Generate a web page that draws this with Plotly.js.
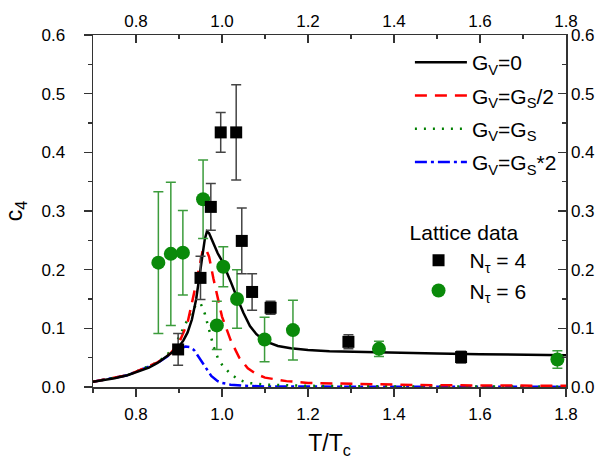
<!DOCTYPE html>
<html><head><meta charset="utf-8">
<script src="https://cdn.plot.ly/plotly-3.0.1.min.js"></script>
<style>html,body{margin:0;padding:0;background:#fff}#c{width:603px;height:464px}</style>
</head><body><div id="c"></div>
<script>
// Model curves
const gv0X = [0.70,0.75,0.78,0.80,0.83,0.85,0.87,0.89,0.90,0.91,0.92,0.93,0.94,0.95,0.955,0.96,0.965,0.97,0.98,0.99,1.00,1.01,1.02,1.035,1.05,1.065,1.08,1.10,1.13,1.16,1.20,1.25,1.30,1.40,1.50,1.60,1.70,1.80];
const gv0Y = [0.009,0.015,0.020,0.025,0.033,0.041,0.051,0.062,0.069,0.079,0.093,0.115,0.150,0.200,0.228,0.252,0.265,0.262,0.245,0.228,0.215,0.198,0.180,0.152,0.126,0.104,0.090,0.078,0.070,0.066,0.063,0.061,0.060,0.058,0.057,0.056,0.055,0.054];
const gvHalfX = [0.70,0.78,0.85,0.88,0.90,0.92,0.935,0.95,0.955,0.962,0.97,0.98,0.99,1.00,1.02,1.04,1.06,1.08,1.10,1.15,1.20,1.30,1.40,1.50,1.60,1.70,1.80];
const gvHalfY = [0.009,0.020,0.042,0.057,0.075,0.110,0.160,0.215,0.232,0.236,0.222,0.185,0.150,0.120,0.080,0.050,0.032,0.022,0.016,0.010,0.007,0.005,0.004,0.003,0.003,0.002,0.002];
const gvSX = [0.70,0.78,0.85,0.87,0.89,0.91,0.93,0.94,0.95,0.96,0.97,0.98,0.99,1.00,1.02,1.04,1.06,1.10,1.20,1.40,1.80];
const gvSY = [0.009,0.020,0.042,0.053,0.070,0.100,0.130,0.140,0.143,0.125,0.095,0.070,0.050,0.038,0.022,0.012,0.007,0.004,0.002,0.001,0.0005];
const gv2X = [0.70,0.78,0.85,0.88,0.90,0.915,0.925,0.935,0.945,0.955,0.965,0.975,0.99,1.00,1.02,1.05,1.10,1.20,1.40,1.80];
const gv2Y = [0.009,0.020,0.041,0.055,0.065,0.069,0.068,0.063,0.052,0.040,0.028,0.019,0.010,0.007,0.004,0.002,0.001,0.0005,0.0003,0.0002];

// Lattice data
const nt4X = [0.898,0.950,0.974,0.997,1.033,1.046,1.070,1.113,1.294,1.556];
const nt4Y = [0.064,0.186,0.307,0.434,0.434,0.249,0.162,0.135,0.077,0.051];
const nt4E = [0.027,0.037,0.040,0.034,0.081,0.056,0.031,0.011,0.012,0.010];
const nt6X = [0.852,0.881,0.909,0.956,0.988,1.003,1.035,1.099,1.165,1.365,1.780];
const nt6Y = [0.212,0.227,0.229,0.320,0.105,0.205,0.150,0.081,0.097,0.065,0.047];
const nt6E = [0.121,0.122,0.072,0.067,0.041,0.034,0.050,0.038,0.051,0.013,0.015];

const names = ['G<sub>V</sub>=0','G<sub>V</sub>=G<sub>S</sub>/2','G<sub>V</sub>=G<sub>S</sub>','G<sub>V</sub>=G<sub>S</sub>*2'];
const latNames = ['N<sub>τ</sub> = 4','N<sub>τ</sub> = 6'];

const traces = [
  {x:gv2X,y:gv2Y,mode:'lines',name:names[3],legend:'legend',legendgroup:'d',legendrank:4,line:{color:'#0000ff',width:2.5,dash:'12px,4px,3px,4px'}},
  {x:gvSX,y:gvSY,mode:'lines',name:names[2],legend:'legend',legendgroup:'c',legendrank:3,line:{color:'#008000',width:2.5,dash:'2px,7px'}},
  {x:gvHalfX,y:gvHalfY,mode:'lines',name:names[1],legend:'legend',legendgroup:'b',legendrank:2,line:{color:'#ff0000',width:2.5,dash:'12px,8px'}},
  {x:gv0X,y:gv0Y,mode:'lines',name:names[0],legend:'legend',legendgroup:'a',legendrank:1,line:{color:'#000000',width:2.5}},
  {x:nt6X,y:nt6Y,mode:'markers',name:latNames[1],legend:'legend2',legendrank:2,
   marker:{symbol:'circle',size:14,color:'#0a8a0a'},
   error_y:{type:'data',array:nt6E,visible:true,color:'#3c9c3c',thickness:1.5,width:5}},
  {x:nt4X,y:nt4Y,mode:'markers',name:latNames[0],legend:'legend2',legendrank:1,
   marker:{symbol:'square',size:12,color:'#000000'},
   error_y:{type:'data',array:nt4E,visible:true,color:'#444444',thickness:1.5,width:5}},
  {x:[0.7],y:[0],xaxis:'x2',yaxis:'y2',mode:'markers',marker:{opacity:0},showlegend:false,hoverinfo:'skip'}
];

const font = {family:'Liberation Sans, Arial, sans-serif',color:'#000'};
const axCommon = {showgrid:false,zeroline:false,showline:true,linecolor:'#333',linewidth:1.5,tickcolor:'#333',tickwidth:1.5,
  tickfont:{family:font.family,size:17,color:'#000'}};

const layout = {
  width:603,height:464,
  margin:{l:93,r:37,t:35,b:77,pad:0},
  paper_bgcolor:'#fff',plot_bgcolor:'#fff',
  font:font,
  xaxis:Object.assign({},axCommon,{range:[0.7,1.8],dtick:0.2,tick0:0.8,ticks:'outside',ticklen:8,tickformat:'.1f',ticklabelstandoff:3,
    minor:{dtick:0.1,tick0:0.7,ticks:'outside',ticklen:4,tickcolor:'#333',tickwidth:1.5},
    title:{text:'T/T<sub>c</sub>',font:{family:font.family,size:23,color:'#000'},standoff:12}}),
  xaxis2:Object.assign({},axCommon,{range:[0.7,1.8],matches:'x',overlaying:'x',side:'top',anchor:'y',dtick:0.2,tick0:0.8,ticks:'inside',ticklen:8,tickformat:'.1f',
    minor:{dtick:0.1,tick0:0.7,ticks:'inside',ticklen:4,tickcolor:'#333',tickwidth:1.5}}),
  yaxis:Object.assign({},axCommon,{range:[0,0.6],dtick:0.1,ticks:'outside',ticklen:8,tickformat:'.1f',ticklabelstandoff:15,
    minor:{dtick:0.05,ticks:'outside',ticklen:4,tickcolor:'#333',tickwidth:1.5},
    title:{text:'c<sub>4</sub>',font:{family:font.family,size:23,color:'#000'},standoff:12}}),
  yaxis2:Object.assign({},axCommon,{range:[0,0.6],matches:'y',overlaying:'y',side:'right',anchor:'x',dtick:0.1,ticks:'inside',ticklen:8,tickformat:'.1f',ticklabelstandoff:0,
    minor:{dtick:0.05,ticks:'inside',ticklen:4,tickcolor:'#333',tickwidth:1.5}}),
  legend:{x:0.67,y:0.98,xanchor:'left',yanchor:'top',bgcolor:'rgba(0,0,0,0)',borderwidth:0,
    font:{family:font.family,size:21,color:'#000'},tracegroupgap:3,traceorder:'grouped',itemwidth:52},
  legend2:{x:0.665,y:0.495,xanchor:'left',yanchor:'top',bgcolor:'rgba(0,0,0,0)',borderwidth:0,itemwidth:52,
    font:{family:font.family,size:21,color:'#000'},title:{text:'Lattice data',side:'top',font:{family:font.family,size:21,color:'#000'}}},
  showlegend:true
};

Plotly.newPlot('c',traces,layout,{staticPlot:true,displayModeBar:false});
</script>
</body></html>
